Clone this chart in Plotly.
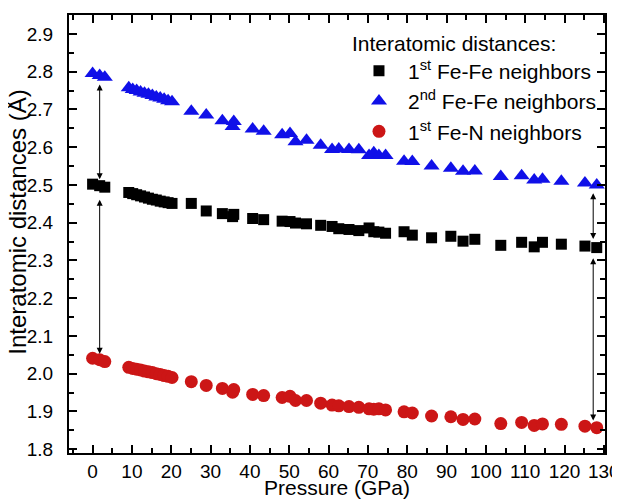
import plotly.graph_objects as go

pressure = [0, 1.8, 3.1, 9.2, 10.2, 11.2, 12.2, 13.2, 14.2, 15.2, 16.2, 17.2, 18.2, 19.2, 20.2,
            25.1, 28.9, 33.0, 35.6, 35.9, 40.7, 43.5, 48.2, 50.2, 51.6, 54.4, 58.0, 60.9, 62.6,
            65.2, 67.7, 70.3, 71.5, 72.8, 74.5, 79.2, 81.3, 86.2, 91.1, 94.2, 97.2, 103.8,
            109.1, 112.3, 114.4, 119.2, 125.2, 128.2]

fefe_1st = [2.502, 2.498, 2.494, 2.480, 2.477, 2.474, 2.471, 2.468, 2.465, 2.462, 2.460, 2.457,
            2.455, 2.453, 2.451, 2.451, 2.431, 2.424, 2.416, 2.422, 2.411, 2.408, 2.404, 2.403,
            2.399, 2.397, 2.393, 2.390, 2.384, 2.382, 2.379, 2.386, 2.376, 2.375, 2.372, 2.376,
            2.367, 2.360, 2.364, 2.351, 2.356, 2.340, 2.348, 2.336, 2.348, 2.343, 2.338, 2.334]

fefe_2nd = [2.795, 2.790, 2.785, 2.757, 2.753, 2.750, 2.746, 2.743, 2.740, 2.737, 2.733, 2.730,
            2.727, 2.723, 2.720, 2.695, 2.685, 2.670, 2.655, 2.668, 2.648, 2.642, 2.633, 2.636,
            2.614, 2.618, 2.605, 2.594, 2.595, 2.594, 2.593, 2.578, 2.585, 2.578, 2.578, 2.563,
            2.562, 2.550, 2.544, 2.536, 2.537, 2.522, 2.524, 2.513, 2.515, 2.510, 2.505, 2.500]

fen_1st = [2.041, 2.037, 2.032, 2.017, 2.014, 2.012, 2.010, 2.007, 2.005, 2.003, 2.000, 1.998,
           1.995, 1.993, 1.990, 1.979, 1.969, 1.961, 1.951, 1.958, 1.945, 1.942, 1.937, 1.940,
           1.929, 1.929, 1.922, 1.917, 1.915, 1.913, 1.911, 1.907, 1.906, 1.907, 1.904, 1.899,
           1.896, 1.888, 1.886, 1.879, 1.880, 1.868, 1.871, 1.863, 1.867, 1.866, 1.861, 1.857]

# double-headed arrows: (pressure, y_start, y_end)
arrow_spans = [(1.8, 2.770, 2.515), (1.8, 2.465, 2.053),
               (127.3, 2.482, 2.357), (127.3, 2.310, 1.876)]

FONT = "Liberation Sans, Arial, sans-serif"

fig = go.Figure()
fig.add_trace(go.Scatter(x=pressure, y=fefe_1st, mode="markers",
                         name="1<sup>st</sup> Fe-Fe neighbors",
                         marker=dict(symbol="square", size=11, color="black")))
fig.add_trace(go.Scatter(x=pressure, y=fefe_2nd, mode="markers",
                         name="2<sup>nd</sup> Fe-Fe neighbors",
                         marker=dict(symbol="triangle-up", size=14, color="#1010E8")))
fig.add_trace(go.Scatter(x=pressure, y=fen_1st, mode="markers",
                         name="1<sup>st</sup> Fe-N neighbors",
                         marker=dict(symbol="circle", size=13, color="#CC1616")))

for px, y0, y1 in arrow_spans:
    fig.add_annotation(x=px, y=y1, ax=px, ay=y0, xref="x", yref="y", axref="x", ayref="y",
                       text="", showarrow=True, arrowside="end+start", arrowhead=2,
                       arrowsize=1.2, arrowwidth=1, arrowcolor="black")

# y-axis title placed as rotated text left of the tick labels
fig.add_annotation(text="Interatomic distances (Å)", xref="paper", yref="paper",
                   x=-0.096, y=0.527, xanchor="center", yanchor="middle",
                   textangle=-90, showarrow=False,
                   font=dict(family=FONT, size=24, color="black"))

axis_common = dict(showline=True, linecolor="black", linewidth=2, mirror="allticks",
                   ticks="inside", ticklen=8, tickwidth=1.5, tickcolor="black",
                   showgrid=False, zeroline=False, automargin=False,
                   tickfont=dict(family=FONT, size=19, color="black"))

fig.update_xaxes(range=[-6, 130.3], dtick=10, tick0=0,
                 title=dict(text="Pressure (GPa)", font=dict(family=FONT, size=21, color="black"),
                            standoff=0),
                 minor=dict(ticks="inside", ticklen=5, dtick=5, tick0=0, tickcolor="black",
                            tickwidth=1.5, showgrid=False),
                 **axis_common)
fig.update_yaxes(range=[1.79, 2.95], dtick=0.1, tick0=1.8, tickformat=".1f",
                 ticklabelstandoff=10,
                 minor=dict(ticks="inside", ticklen=5, dtick=0.05, tick0=1.8, tickcolor="black",
                            tickwidth=1.5, showgrid=False),
                 **axis_common)

fig.update_layout(
    width=612, height=491,
    margin=dict(l=61, r=15, t=7, b=46),
    paper_bgcolor="white", plot_bgcolor="white",
    font=dict(family=FONT, color="black"),
    legend=dict(x=0.9925, y=0.981, xanchor="right", yanchor="top",
                bgcolor="rgba(0,0,0,0)", borderwidth=0,
                font=dict(family=FONT, size=21, color="black"),
                title=dict(text="Interatomic distances:", font=dict(family=FONT, size=21)),
                itemwidth=48),
    showlegend=True,
)

fig.write_html("out.html")
